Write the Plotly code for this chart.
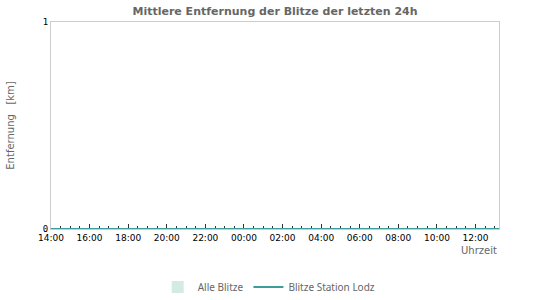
import plotly.graph_objects as go

# Data
times = ["2024-06-01 14:00", "2024-06-01 16:00", "2024-06-01 18:00", "2024-06-01 20:00",
         "2024-06-01 22:00", "2024-06-02 00:00", "2024-06-02 02:00", "2024-06-02 04:00",
         "2024-06-02 06:00", "2024-06-02 08:00", "2024-06-02 10:00", "2024-06-02 12:00",
         "2024-06-02 13:13"]
alle_blitze = [0, 0, 0, 0, 0, 0, 0, 0, 0, 0, 0, 0, 0]
station_lodz = [0, 0, 0, 0, 0, 0, 0, 0, 0, 0, 0, 0, 0]
x_range = ["2024-06-01 14:00", "2024-06-02 13:13"]
y_ticks = [0, 1]

fig = go.Figure()
fig.add_trace(go.Bar(
    x=times, y=alle_blitze, name="Alle Blitze",
    marker=dict(color="#d3ebe3", line=dict(width=0)),
))
fig.add_trace(go.Scatter(
    x=times, y=station_lodz, name="Blitze Station Lodz", mode="lines",
    line=dict(width=2, color="#3f9c9c"),
))

fig.update_layout(
    width=550, height=300,
    margin=dict(l=51, r=51, t=22, b=71, autoexpand=False),
    paper_bgcolor="white", plot_bgcolor="white",
    title=dict(text="<b>Mittlere Entfernung der Blitze der letzten 24h</b>",
               x=0.5, xanchor="center", y=1 - 11 / 300, yanchor="middle",
               font=dict(family="DejaVu Sans", size=11, color="#666666")),
    showlegend=True,
    legend=dict(orientation="h", x=0.487, xanchor="center", y=-0.28, yanchor="middle",
                font=dict(family="Noto Sans", size=10, color="#666666"),
                itemwidth=30),
    font=dict(family="DejaVu Sans", size=9, color="#000000"),
)

fig.update_xaxes(
    type="date", range=x_range, dtick=2 * 3600 * 1000, tick0="2024-06-01 14:00",
    tickformat="%H:%M", ticks="inside", ticklen=5, tickcolor="#333333", tickwidth=1,
    minor=dict(dtick=30 * 60 * 1000, ticks="inside", ticklen=3, tickcolor="#333333", showgrid=False),
    showgrid=False, zeroline=False, showline=True, linecolor="#cccccc", linewidth=1,
    mirror=True, layer="below traces",
    tickfont=dict(family="DejaVu Sans", size=9, color="#000000"),
)
fig.update_yaxes(
    range=[0, 1], tickvals=y_ticks, ticktext=[str(v) for v in y_ticks],
    ticks="", showgrid=False, zeroline=False, showline=True, linecolor="#cccccc",
    linewidth=1, mirror=True, layer="below traces",
    tickfont=dict(family="DejaVu Sans Mono", size=9, color="#000000"),
    title=dict(text="Entfernung\u00a0\u00a0\u00a0[km]", standoff=26,
               font=dict(family="DejaVu Sans", size=10, color="#666666")),
)

fig.add_annotation(text="Uhrzeit", xref="paper", yref="paper", x=1, y=0,
                   xanchor="right", yanchor="top", yshift=-14, showarrow=False,
                   font=dict(family="DejaVu Sans", size=10, color="#666666"))

fig.write_html("out.html")
